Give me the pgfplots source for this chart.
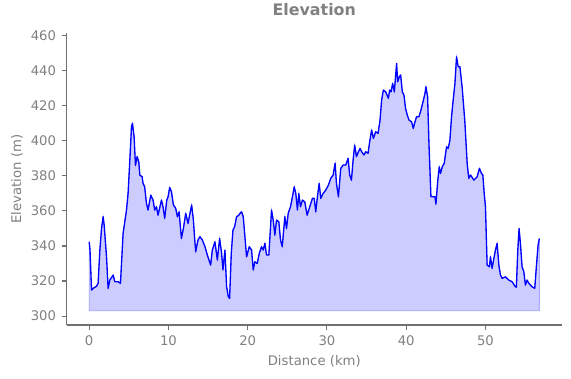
\documentclass[border=0pt]{standalone}
\usepackage{fontspec}
\setmainfont{DejaVu Sans}
\usepackage{pgfplots}
\pgfplotsset{compat=1.18}
\usepackage{pgfplotstable}
\definecolor{txtgray}{HTML}{808080}
\definecolor{spinegray}{HTML}{707070}
\definecolor{fillblue}{HTML}{CCCCFF}
\definecolor{edgeblue}{HTML}{AAAAFF}
\pgfplotstableread{
dist elev
0 342.4
0.1 338
0.3 314.8
0.5 315.8
0.93 317
1.13 318.7
1.35 337.7
1.56 350
1.76 356.7
1.89 352
2.19 333.8
2.39 315.8
2.6 320.5
3.03 323.4
3.24 319.6
3.65 319.6
3.95 318.7
4.28 347.2
4.71 360.5
4.91 370
5.13 389
5.34 408
5.46 410
5.67 402.3
5.84 386
6.05 391
6.26 388
6.39 380.5
6.68 379.5
6.8 375.7
7.0 373.8
7.23 364.3
7.43 360.5
7.77 369
8.06 366.2
8.27 360.5
8.49 362.4
8.69 357.6
9.12 366.2
9.32 362.4
9.53 355.8
9.79 366.2
9.95 368
10.16 373.4
10.38 371
10.63 363.4
10.92 361.5
11.13 356.7
11.34 359.5
11.64 344.3
11.89 350
12.18 358.6
12.47 352.9
12.93 363.4
13.15 354.8
13.31 344.3
13.44 336.7
13.73 343.4
13.98 345.3
14.28 343.4
14.61 339.6
14.91 334.8
15.33 329.1
15.54 337.7
15.87 342.4
16.17 332
16.46 344.3
16.71 335.8
16.88 326.3
17.13 337.7
17.34 316.7
17.56 311
17.72 310.1
17.93 335.8
18.14 349
18.35 351
18.6 356.7
18.89 357.6
19.02 358.6
19.23 359.5
19.44 356.7
19.65 345.3
19.86 333.8
20.2 339.6
20.49 337.7
20.7 326.3
20.9 331
21.21 330
21.46 335.8
21.75 339.6
21.96 337.7
22.17 341.5
22.38 334.8
22.67 334.8
23.01 360.5
23.22 354.8
23.43 346.2
23.64 354.8
23.93 353.8
24.14 343.4
24.36 339.6
24.69 356.7
24.9 350
25.11 358.6
25.4 362.4
25.65 368.1
25.87 373.8
26.07 370
26.28 360.5
26.45 370
26.66 362.4
26.91 366.2
27.2 365.2
27.5 357.6
27.83 362.4
28.17 367.2
28.39 367.2
28.59 359.5
28.8 368.1
29.02 375.7
29.22 367.2
29.52 370
29.85 371.9
30.19 374.8
30.48 378.6
30.78 380.5
31.03 387.2
31.2 375.7
31.45 368.1
31.74 384.3
32.04 386.2
32.37 386.2
32.67 390
32.87 380.5
33.09 377.6
33.3 389
33.5 397.6
33.72 391
33.97 393.8
34.18 395.7
34.38 393.8
34.68 391.9
34.89 393.8
35.19 392.9
35.39 399.5
35.64 406.2
35.86 401.4
36.15 405.2
36.45 404.3
36.7 411.9
36.9 423.3
37.12 429
37.41 428
37.75 424.3
37.91 429
38.09 428
38.29 432.8
38.5 428
38.79 444.2
38.92 433.7
39.13 436.6
39.3 437.6
39.51 428
39.72 426.1
39.92 418.5
40.14 414.7
40.35 411.9
40.68 410.9
40.89 407.1
41.11 410.9
41.31 413.8
41.61 413.8
41.86 417.6
42.07 421.4
42.37 427.1
42.49 430.9
42.7 425.2
42.87 398.6
43.12 368.1
43.41 368.1
43.63 368.1
43.75 363.9
43.95 375.7
44.17 385.2
44.33 381.4
44.55 385.2
44.8 387.2
45.09 396.6
45.3 395.7
45.52 400.5
45.72 413.8
45.93 423.3
46.15 432.8
46.35 448
46.56 442.3
46.78 442.3
47.07 430
47.4 411
47.7 386.5
47.9 378.6
48.11 380.5
48.54 377.6
48.95 379.5
49.24 384.3
49.5 381.4
49.67 380.5
49.84 370
50.0 362.4
50.21 329.1
50.5 328.1
50.63 333.8
50.84 327.2
51.06 332.9
51.26 337.7
51.47 341.5
51.69 329.1
51.89 323.4
52.1 321.5
52.52 322.4
52.95 320.5
53.36 319.6
53.78 316.7
53.9 316.5
54.08 337.7
54.24 350
54.41 341.5
54.62 328.1
54.84 325.3
55.04 317.7
55.25 320.5
55.47 318.7
55.88 316.7
56.22 315.8
56.42 328.1
56.64 340.5
56.8 344.3
}\elevtab
\begin{document}
\begin{tikzpicture}
\path[use as bounding box] (-50.4pt,-40.1pt) rectangle (381.3pt,245.7pt);
\begin{axis}[
  at={(0,0)}, anchor=south west,
  scale only axis,
  width=374.4pt, height=220.5pt,
  xmin=-2.84, xmax=59.64,
  ymin=294.9, ymax=461.4,
  axis x line*=bottom, axis y line*=left,
  axis line style={spinegray, line width=0.8pt},
  xtick={0,10,20,30,40,50},
  ytick={300,320,340,360,380,400,420,440,460},
  tick align=outside,
  major tick length=3.5pt,
  tick style={spinegray, line width=0.8pt},
  every tick label/.append style={font=\fontsize{10}{12}\selectfont, text=txtgray},
  /pgf/number format/assume math mode=true,
  xticklabel style={yshift=-1pt},
  yticklabel style={xshift=-1pt},
  xlabel={Distance (km)},
  ylabel={Elevation (m)},
  label style={font=\fontsize{10}{12}\selectfont, text=txtgray},
  xlabel style={at={(axis description cs:0.5,0)}, anchor=center, yshift=-27.2pt},
  ylabel style={at={(axis description cs:0,0.5)}, anchor=center, rotate=0, yshift=37.6pt},
  title={\textbf{Elevation}},
  title style={font=\fontsize{12}{14}\selectfont, text=txtgray, at={(axis description cs:0.5,1)}, anchor=center, yshift=11.6pt},
  clip=false,
]
\addplot[fill=fillblue, draw=edgeblue, line width=0.6pt] table[x=dist,y=elev] {\elevtab} -- (axis cs:56.8,303) -- (axis cs:0,303) -- cycle;
\addplot[blue, line width=1pt, line join=round] table[x=dist,y=elev] {\elevtab};
\end{axis}
\end{tikzpicture}
\end{document}
